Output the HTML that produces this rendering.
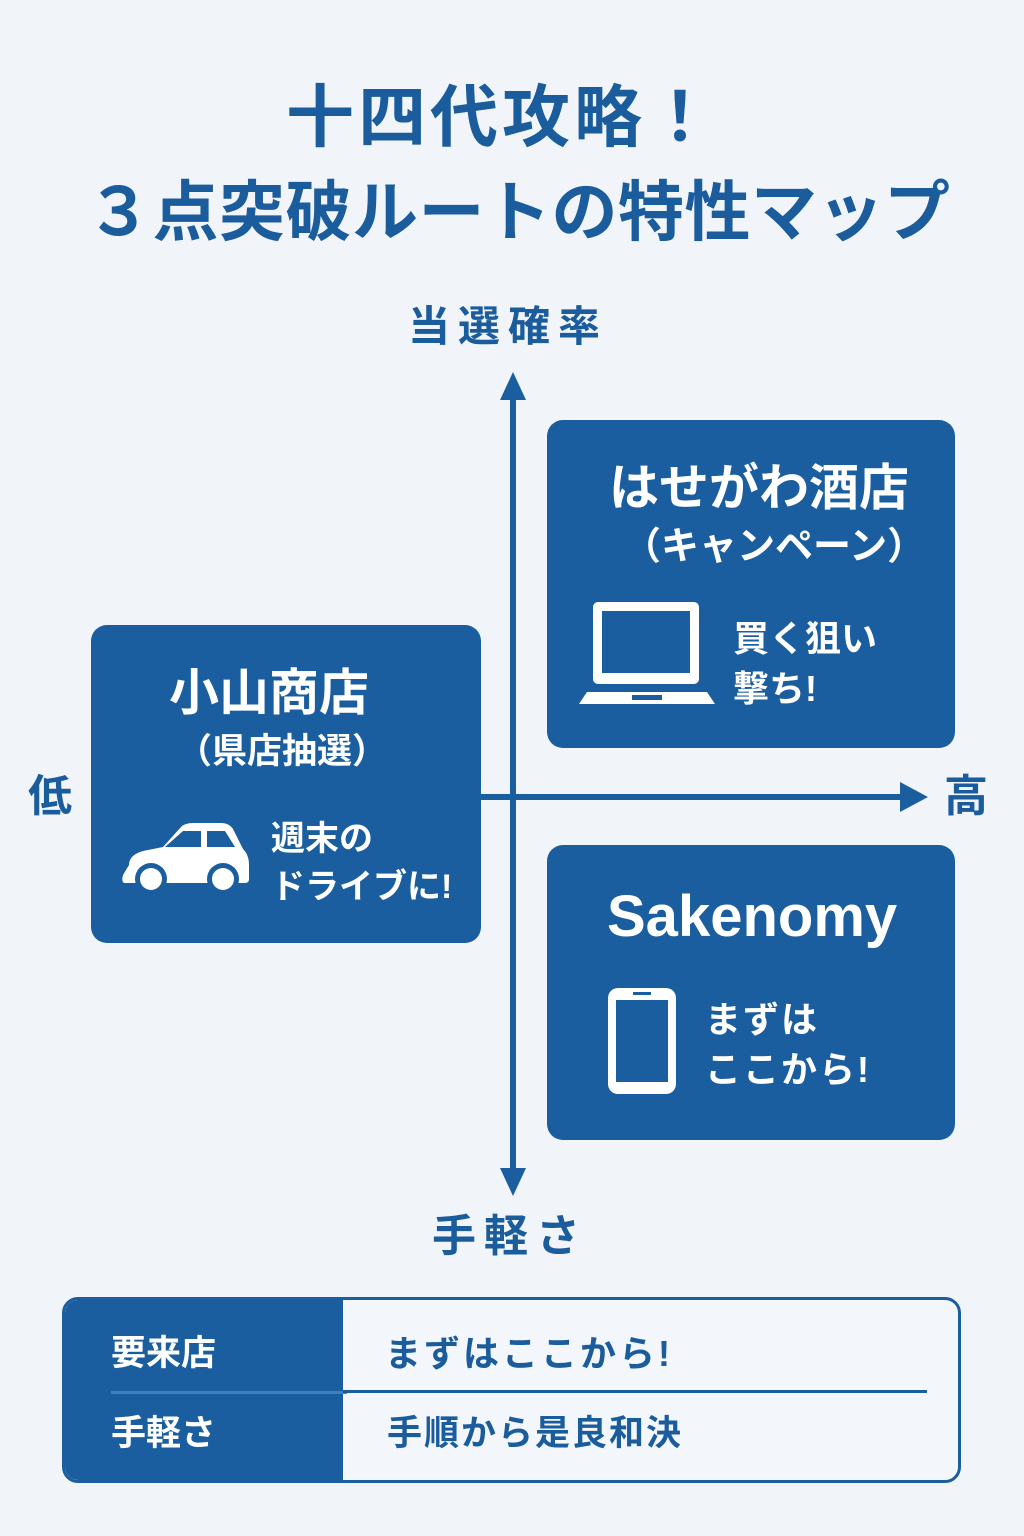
<!DOCTYPE html>
<html><head><meta charset="utf-8"><style>
*{margin:0;padding:0;box-sizing:border-box}
body{width:1024px;height:1536px;background:#f1f5fa;position:relative;overflow:hidden;font-family:"Liberation Sans","Noto Sans CJK JP",sans-serif;font-weight:bold;color:#1b5c9c}
.a{position:absolute;white-space:nowrap}
.box{position:absolute;background:#1b5e9f;border-radius:16px;color:#fff}
.w{color:#fff}
</style></head><body>
<div class="a" style="left:0;width:1004px;top:78px;text-align:center;font-size:68px;line-height:80px;letter-spacing:4px">十四代攻略！</div>
<div class="a" style="left:86px;top:170px;font-size:66px;line-height:84px;letter-spacing:0.5px">３点突破ルートの特性マップ</div>
<div class="a" style="left:408px;top:302px;font-size:42px;line-height:50px;letter-spacing:8px">当選確率</div>
<div class="a" style="left:28px;top:770px;font-size:44px;line-height:54px">低</div>
<div class="a" style="left:944px;top:770px;font-size:44px;line-height:54px">高</div>
<div class="a" style="left:432px;top:1210px;font-size:44px;line-height:54px;letter-spacing:8px">手軽さ</div>
<svg class="a" style="left:0;top:0" width="1024" height="1536">
<g fill="#1b5e9f" stroke="none">
<rect x="510" y="395" width="6" height="775"/>
<polygon points="513,372 500,400 526,400"/>
<polygon points="513,1196 500,1168 526,1168"/>
<rect x="480" y="794" width="425" height="6"/>
<polygon points="928,797 900,782 900,812"/>
</g>
</svg>
<div class="box" style="left:547px;top:420px;width:408px;height:328px">
<div class="a" style="left:62px;top:38px;font-size:50px;line-height:60px">はせがわ酒店</div>
<div class="a" style="left:76px;top:102px;font-size:38px;line-height:50px">（キャンペーン）</div>
<svg class="a" style="left:32px;top:178px" width="140" height="108"><rect x="14" y="4" width="106" height="82" rx="5" fill="#fff"/><rect x="23" y="13" width="88" height="62" fill="#1b5e9f"/><path d="M8 94 H128 L136 106 H0 Z" fill="#fff"/><rect x="53" y="97" width="30" height="5" fill="#1b5e9f"/></svg>
<div class="a" style="left:186px;top:194px;font-size:36px;line-height:50px">買く狙い<br>撃ち!</div>
</div>
<div class="box" style="left:91px;top:625px;width:390px;height:318px">
<div class="a" style="left:78px;top:38px;font-size:50px;line-height:60px">小山商店</div>
<div class="a" style="left:86px;top:104px;font-size:35px;line-height:46px">（県店抽選）</div>
<svg class="a" style="left:30px;top:196px" width="130" height="72"><path d="M8 44 Q8 34 22 30 L42 26 L60 6 Q64 2 72 2 H100 Q108 2 112 8 L122 28 Q128 34 128 44 V58 Q128 62 124 62 H4 Q0 62 2 54 Z" fill="#fff"/><path d="M44 26 L62 10 H80 V26 Z M86 10 H104 L114 26 H86 Z" fill="#1b5e9f"/><circle cx="30" cy="58" r="16" fill="#1b5e9f"/><circle cx="30" cy="58" r="11" fill="#fff"/><circle cx="102" cy="58" r="16" fill="#1b5e9f"/><circle cx="102" cy="58" r="11" fill="#fff"/></svg>
<div class="a" style="left:180px;top:190px;font-size:34px;line-height:48px">週末の<br>ドライブに!</div>
</div>
<div class="box" style="left:547px;top:845px;width:408px;height:295px">
<div class="a" style="left:60px;top:40px;font-size:58px;line-height:64px">Sakenomy</div>
<svg class="a" style="left:58px;top:140px" width="76" height="112"><rect x="3" y="3" width="68" height="106" rx="10" fill="#fff"/><rect x="11" y="15" width="52" height="82" fill="#1b5e9f"/><rect x="28" y="7" width="18" height="3" fill="#1b5e9f"/></svg>
<div class="a" style="left:158px;top:150px;font-size:36px;line-height:50px;letter-spacing:2px">まずは<br>ここから!</div>
</div>
<div class="a" style="left:62px;top:1297px;width:899px;height:186px;border:3px solid #1b5e9f;border-radius:16px;background:#f3f7fb;overflow:hidden">
<div class="a" style="left:0;top:0;width:278px;height:186px;background:#1b5e9f"></div>
<div class="a" style="left:46px;top:91px;width:236px;height:3px;background:#3f7fc0"></div>
<div class="a" style="left:278px;top:90px;width:584px;height:3px;background:#1b5e9f"></div>
<div class="a w" style="left:46px;top:32px;font-size:35px;line-height:44px">要来店</div>
<div class="a w" style="left:46px;top:112px;font-size:35px;line-height:44px">手軽さ</div>
<div class="a" style="left:320px;top:32px;font-size:36px;line-height:44px;letter-spacing:3px">まずはここから!</div>
<div class="a" style="left:322px;top:112px;font-size:35px;line-height:44px;letter-spacing:2px">手順から是良和決</div>
</div>
</body></html>
